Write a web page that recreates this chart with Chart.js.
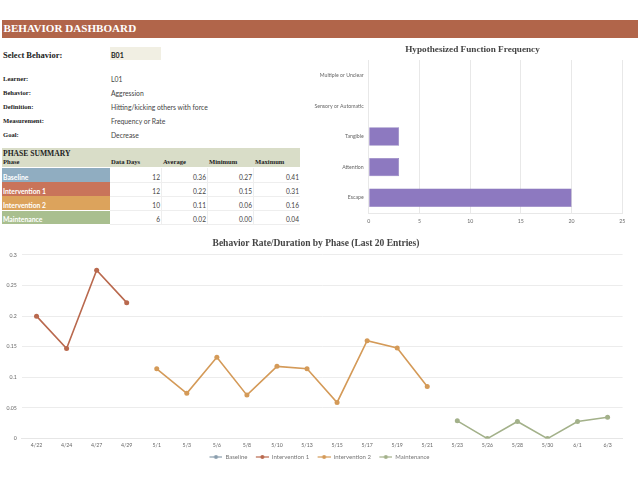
<!DOCTYPE html>
<html><head><meta charset="utf-8">
<script src="https://cdn.jsdelivr.net/npm/chart.js@4"></script>
<style>
html,body{margin:0;padding:0;background:#fff;width:640px;height:480px;overflow:hidden}
.t{position:absolute;white-space:nowrap;line-height:1}
.s{font-family:"Liberation Serif",serif;font-weight:bold;color:#222}
.a{font-family:Lato,sans-serif;color:#444}
.box{position:absolute}
canvas{position:absolute}
</style></head><body>
<div class="box" style="left:2px;top:19.5px;width:636px;height:18px;background:#b1654a"></div>
<div class="t s" style="left:3.5px;top:22.8px;font-size:11.1px;color:#fff">BEHAVIOR DASHBOARD</div>
<div class="t s" style="left:3px;top:50.7px;font-size:8.5px">Select Behavior:</div>
<div class="box" style="left:110px;top:47.3px;width:51px;height:12.7px;background:#f1efe3"></div>
<div class="t a" style="left:111px;top:51.5px;font-size:7px;font-weight:bold;color:#222">B01</div>
<div id="info"></div>
<div class="box" style="left:2px;top:148px;width:298px;height:19px;background:#d9ddc8"></div>
<div class="t s" style="left:3px;top:149.5px;font-size:7.6px">PHASE SUMMARY</div>
<div id="tbl"></div>
<canvas id="bar" width="335" height="200" style="left:305px;top:35px;width:335px;height:200px"></canvas>
<canvas id="line" width="632" height="238" style="left:0;top:232px;width:632px;height:238px"></canvas>
<script>
const infoLabels=["Learner:","Behavior:","Definition:","Measurement:","Goal:"];
const infoValues=["L01","Aggression","Hitting/kicking others with force","Frequency or Rate","Decrease"];
const tableHeaders=["Phase","Data Days","Average","Minimum","Maximum"];
const phases=["Baseline","Intervention 1","Intervention 2","Maintenance"];
const dataDays=["12","12","10","6"];
const averages=["0.36","0.22","0.11","0.02"];
const minimums=["0.27","0.15","0.06","0.00"];
const maximums=["0.41","0.31","0.16","0.04"];
const phaseFills=["#90adc1","#c9745a","#dca35c","#a9bf8f"];
const functionLabels=["Multiple or Unclear","Sensory or Automatic","Tangible","Attention","Escape"];
const functionCounts=[0,0,3,3,20];
const dates=["4/22","4/24","4/27","4/29","5/1","5/3","5/6","5/8","5/10","5/13","5/15","5/17","5/19","5/21","5/23","5/26","5/28","5/30","6/1","6/3"];
const baseline=[null,null,null,null,null,null,null,null,null,null,null,null,null,null,null,null,null,null,null,null];
const intervention1=[0.2,0.147,0.275,0.222,null,null,null,null,null,null,null,null,null,null,null,null,null,null,null,null];
const intervention2=[null,null,null,null,0.114,0.074,0.133,0.071,0.118,0.114,0.059,0.16,0.148,0.085,null,null,null,null,null,null];
const maintenance=[null,null,null,null,null,null,null,null,null,null,null,null,null,null,0.029,0,0.028,0,0.028,0.035];
const lineColors=["#8a9eae","#b9694e","#d49a58","#a3b18a"];

const info=document.getElementById('info');
const infoY=[75.7,89.7,103.7,117.7,131.7];
infoLabels.forEach((l,i)=>{
  info.innerHTML+=`<div class="t s" style="left:3px;top:${infoY[i]}px;font-size:6.6px">${l}</div>`+
   `<div class="t a" style="left:111px;top:${infoY[i]-0.2}px;font-size:6.8px">${infoValues[i]}</div>`;
});
const tbl=document.getElementById('tbl');
const hx=[3,111,163,209,255];
let h='';
tableHeaders.forEach((t,i)=>{h+=`<div class="t s" style="left:${hx[i]}px;top:159.4px;font-size:6.6px">${t}</div>`;});
const rowTop=[168,182,196,210.5], right=[160,206,252,299];
phases.forEach((p,i)=>{
  h+=`<div class="box" style="left:2px;top:${rowTop[i]}px;width:108px;height:13.5px;background:${phaseFills[i]}"></div>`;
  h+=`<div class="t a" style="left:3px;top:${rowTop[i]+5.5}px;font-size:6.8px;color:#fff;font-weight:bold">${p}</div>`;
  [dataDays,averages,minimums,maximums].forEach((c,j)=>{
    h+=`<div class="t a" style="right:${640-right[j]}px;top:${rowTop[i]+5.5}px;font-size:6.6px">${c[i]}</div>`;
  });
  h+=`<div class="box" style="left:110px;top:${rowTop[i]+13.5}px;width:190px;height:1px;background:#eee"></div>`;
});
[162,208,254].forEach(x=>{h+=`<div class="box" style="left:${x-1}px;top:168px;width:1px;height:56px;background:#eee"></div>`;});
tbl.innerHTML=h;

Chart.defaults.animation=false;
const tickFont={family:'Lato',size:5.2};
const titleFont={family:'"Liberation Serif"',size:9.5,weight:'bold'};

new Chart(document.getElementById('bar'),{
  type:'bar',
  data:{labels:functionLabels,datasets:[{data:functionCounts,backgroundColor:'#8d79c0',borderColor:'#8070b4',borderWidth:0.5,categoryPercentage:0.6,barPercentage:1}]},
  options:{indexAxis:'y',responsive:false,
    plugins:{legend:{display:false},tooltip:{enabled:false},
      title:{display:true,text:'Hypothesized Function Frequency',color:'#444',font:{family:'"Liberation Serif"',size:9.2,weight:'bold'},padding:{top:9,bottom:5}}},
    scales:{
      x:{min:0,max:25,ticks:{stepSize:5,color:'#666',font:tickFont,padding:5},grid:{color:'#e8e8e8',drawTicks:false},border:{color:'#e8e8e8'},
         afterFit(s){s.height=22;s.paddingRight=17.7;s.paddingLeft=0;}},
      y:{ticks:{color:'#666',font:tickFont,padding:5},grid:{display:false,drawTicks:false},border:{color:'#e8e8e8'},
         afterFit(s){s.width=63.7;}}
    }}
});

function legendIcon(color){
  const c=document.createElement('canvas');c.width=20;c.height=6;
  const g=c.getContext('2d');
  g.strokeStyle=color;g.lineWidth=1.2;g.beginPath();g.moveTo(7,3);g.lineTo(20,3);g.stroke();
  g.fillStyle=color;g.beginPath();g.arc(13.5,3,2,0,7);g.fill();
  return c;
}
const series=[baseline,intervention1,intervention2,maintenance];
new Chart(document.getElementById('line'),{
  type:'line',
  data:{labels:dates,datasets:series.map((d,i)=>({label:phases[i],data:d,borderColor:lineColors[i],backgroundColor:lineColors[i],borderWidth:1.6,pointRadius:2.5,pointBorderWidth:0,tension:0,spanGaps:false}))},
  options:{responsive:false,
    plugins:{tooltip:{enabled:false},
      title:{display:true,text:'Behavior Rate/Duration by Phase (Last 20 Entries)',color:'#444',font:titleFont,padding:{top:5.5,bottom:6}},
      legend:{position:'bottom',labels:{usePointStyle:true,pointStyleWidth:20,boxHeight:6,color:'#777',font:{family:'Lato',size:6},padding:1.4,
        generateLabels(ch){return ch.data.datasets.map((d,i)=>({text:d.label,fontColor:'#777',pointStyle:legendIcon(lineColors[i]),datasetIndex:i,strokeStyle:'transparent',fillStyle:'transparent',lineWidth:0}));}}}},
    scales:{
      x:{offset:true,ticks:{color:'#666',font:tickFont,padding:3.5,maxRotation:0,autoSkip:false},grid:{display:false,drawTicks:false},border:{color:'#e6e6e6'},
         afterFit(s){s.height=14;s.paddingRight=9.4;s.paddingLeft=0;}},
      y:{min:0,max:0.3,ticks:{stepSize:0.05,color:'#666',font:tickFont,padding:4.8,callback:v=>String(+v.toFixed(2))},grid:{color:'#ececec',drawTicks:false},border:{display:false},
         afterFit(s){s.width=21.5;}}
    }}
});
</script>
</body></html>
